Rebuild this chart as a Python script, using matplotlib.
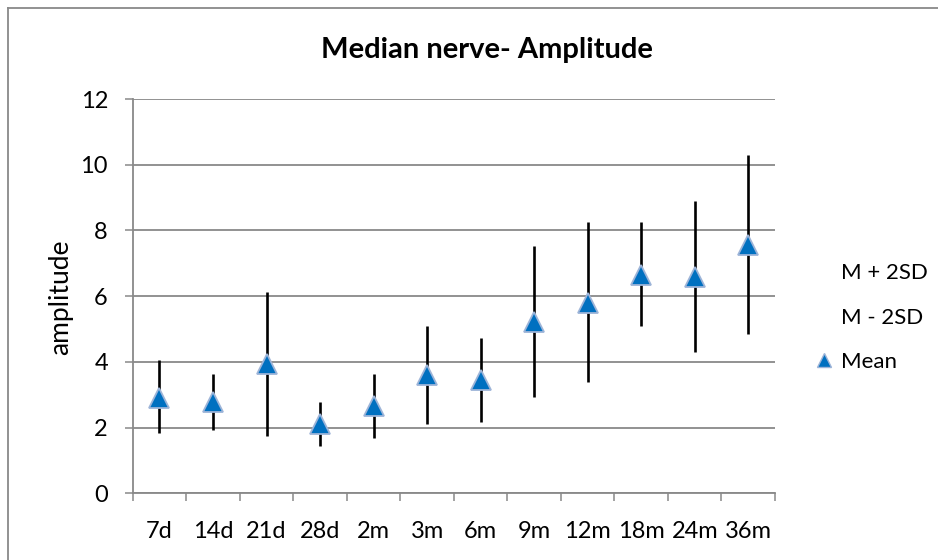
import matplotlib
matplotlib.use("Agg")
import matplotlib.pyplot as plt
from matplotlib.lines import Line2D
import numpy as np

plt.rcParams['font.family'] = ['Lato', 'DejaVu Sans']

categories = ['7d', '14d', '21d', '28d', '2m', '3m', '6m', '9m', '12m', '18m', '24m', '36m']
mean_vals = [2.9, 2.78, 3.92, 2.1, 2.65, 3.6, 3.45, 5.2, 5.8, 6.65, 6.58, 7.55]
upper_vals = [4.06, 3.63, 6.13, 2.78, 3.63, 5.09, 4.72, 7.52, 8.25, 8.25, 8.90, 10.29]
lower_vals = [1.83, 1.93, 1.74, 1.44, 1.69, 2.12, 2.18, 2.92, 3.40, 5.09, 4.30, 4.85]
y_ticks = [0, 2, 4, 6, 8, 10, 12]

W, H = 938, 560
fig = plt.figure(figsize=(W / 100, H / 100), dpi=100)
ax = fig.add_axes([132.7 / W, (H - 493.3) / H, (775 - 132.7) / W, (493.3 - 99) / H])

gray = '#898989'
x = np.arange(len(categories))

ax.vlines(x, lower_vals, upper_vals, color='black', linewidth=1.9, zorder=3)
ax.plot(x, mean_vals, linestyle='none', marker='^', markersize=14, markerfacecolor='#0070C0',
        markeredgecolor='#9DB4D8', markeredgewidth=1.3, zorder=4)

ax.set_xlim(-0.5, len(categories) - 0.5)
ax.set_ylim(0, 12)
ax.set_yticks(y_ticks)
ax.set_yticklabels([str(v) for v in y_ticks])
ax.set_xticks(x)
ax.set_xticklabels(categories)
ax.set_xticks(np.arange(-0.5, len(categories)), minor=True)

ax.tick_params(axis='x', which='major', length=0, pad=20, labelsize=17, labelcolor='black')
ax.tick_params(axis='x', which='minor', length=5.8, width=1.1, color=gray, direction='out')
ax.tick_params(axis='y', which='major', length=5.8, width=1.1, color=gray, direction='out', pad=12,
               labelsize=17)

ax.grid(axis='y', color=gray, linewidth=1.3, zorder=0)
ax.set_axisbelow(True)
for s in ['top', 'right']:
    ax.spines[s].set_visible(False)
for s in ['left', 'bottom']:
    ax.spines[s].set_color(gray)
    ax.spines[s].set_linewidth(1.3)

fig.text(61 / W, (H - 297) / H, 'amplitude', rotation=90, ha='center', va='center', fontsize=19)
fig.text(487 / W, (H - 50) / H, 'Median nerve- Amplitude', ha='center', va='center',
         fontsize=21, fontweight='bold')

handles = [Line2D([], [], linestyle='none'),
           Line2D([], [], linestyle='none'),
           Line2D([], [], linestyle='none', marker='^', markersize=10, markerfacecolor='#0070C0',
                  markeredgecolor='#9DB4D8', markeredgewidth=1.0)]
fig.legend(handles, ['M + 2SD', 'M - 2SD', 'Mean'], loc='center left',
           bbox_to_anchor=(815 / W, (H - 317.5) / H), bbox_transform=fig.transFigure,
           frameon=False, fontsize=16, handlelength=0.8, handletextpad=0.38,
           labelspacing=1.1, borderpad=0, borderaxespad=0)

fig.add_artist(Line2D([8 / W, 8 / W], [0, (H - 8) / H], transform=fig.transFigure, color=gray, linewidth=1.3))
fig.add_artist(Line2D([8 / W, 1], [(H - 8) / H, (H - 8) / H], transform=fig.transFigure, color=gray, linewidth=1.3))

fig.savefig('out.png', dpi=100)
